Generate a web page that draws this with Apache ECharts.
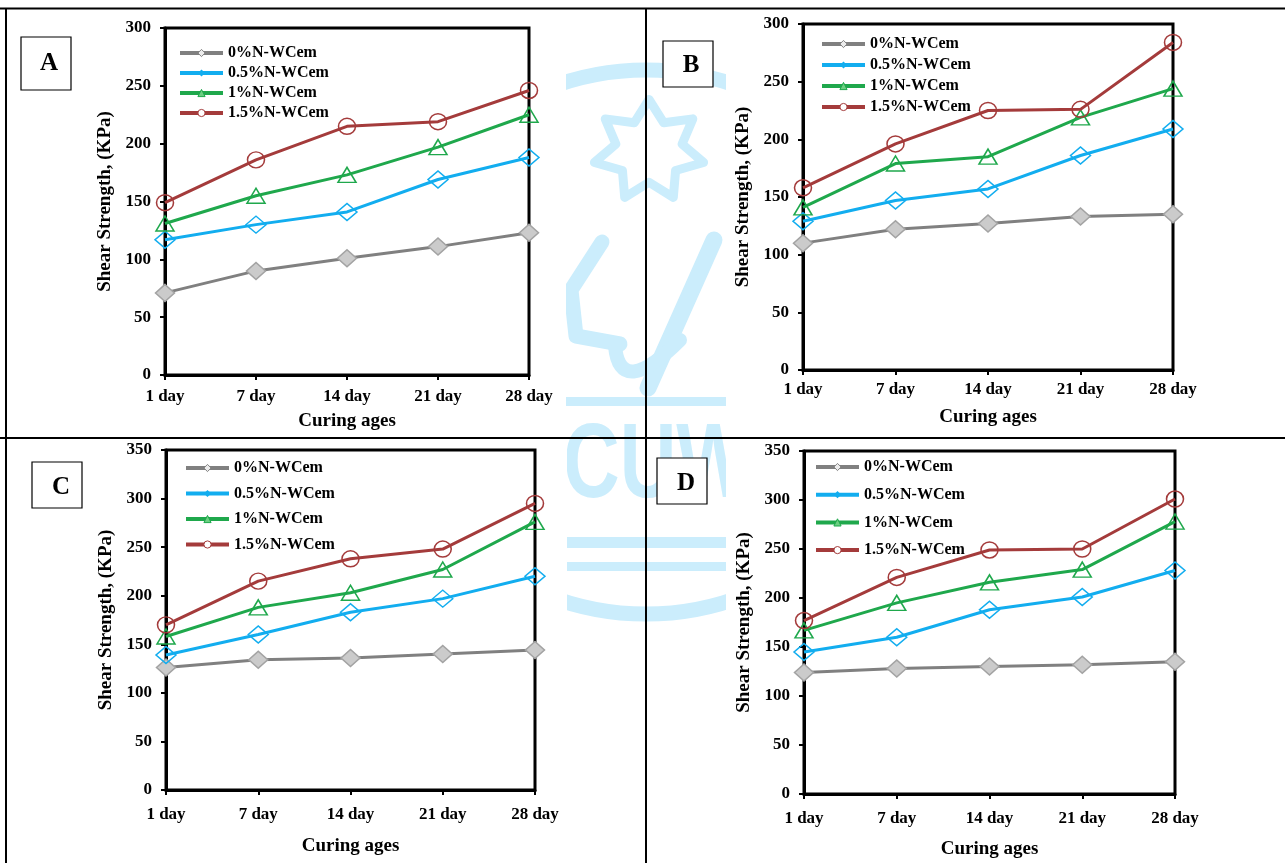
<!DOCTYPE html>
<html><head><meta charset="utf-8">
<script src="https://cdn.jsdelivr.net/npm/echarts@6/dist/echarts.min.js"></script>
<style>html,body{margin:0;padding:0;background:#fff}#c{width:1285px;height:863px}</style>
</head><body><div id="c"></div><script>
// ---------- data ----------
const categories = ['1 day', '7 day', '14 day', '21 day', '28 day'];
const seriesNames = ['0%N-WCem', '0.5%N-WCem', '1%N-WCem', '1.5%N-WCem'];
const panelLetters = ['A', 'B', 'C', 'D'];

const A_0 = [71, 90, 101, 111, 123];
const A_05 = [117, 130, 141, 169, 188];
const A_1 = [131, 155, 173, 197, 225];
const A_15 = [149, 186, 215, 219, 246];

const B_0 = [110, 122, 127, 133, 135];
const B_05 = [129, 147, 157, 186, 209];
const B_1 = [141, 179, 185, 219, 244];
const B_15 = [158, 196, 225, 226, 284];

const C_0 = [126, 134, 136, 140, 144];
const C_05 = [139, 160, 183, 197, 220];
const C_1 = [158, 188, 203, 227, 276];
const C_15 = [170, 215, 238, 248, 295];

const D_0 = [124, 128, 130, 132, 135];
const D_05 = [145, 160, 188, 201, 228];
const D_1 = [167, 195, 216, 229, 278];
const D_15 = [177, 221, 249, 250, 301];

const yMax = [300, 300, 350, 350];
const yInterval = 50;
const xTitle = 'Curing ages';
const yTitle = 'Shear Strength, (KPa)';

// ---------- styling / layout ----------
const panelData = [[A_0, A_05, A_1, A_15], [B_0, B_05, B_1, B_15], [C_0, C_05, C_1, C_15], [D_0, D_05, D_1, D_15]];
const grids = [
  {left: 165, top: 28, width: 364, height: 347},
  {left: 803, top: 24, width: 370, height: 346},
  {left: 166, top: 450, width: 369, height: 340},
  {left: 804, top: 451, width: 371, height: 343}
];
const labelMarginX = [13, 11, 16.5, 16];
const nameGapX = [37, 38, 47, 46];
const legendPos = [
  {left: 178, top: 45, gap: 4},
  {left: 820, top: 36, gap: 5},
  {left: 184, top: 460, gap: 9.5},
  {left: 814, top: 459, gap: 11.7}
];
const boxes = [
  {x: 21, y: 37, w: 50, h: 53, tx: 49, ty: 64},
  {x: 663, y: 41, w: 50, h: 46, tx: 691, ty: 66},
  {x: 32, y: 462, w: 50, h: 46, tx: 61, ty: 488},
  {x: 657, y: 458, w: 50, h: 46, tx: 686, ty: 484}
];
const serif = '"Liberation Serif", "Times New Roman", serif';
const colors = ['#808080', '#12adef', '#1fa84c', '#a43b3b'];
const symbols = ['diamond', 'diamond', 'triangle', 'circle'];
const symbolSizes = [[19, 17], [20, 17], [18, 15], [17, 16]];
const markerFill = ['#cbcbcb', 'rgba(0,0,0,0)', 'rgba(0,0,0,0)', 'rgba(0,0,0,0)'];
const markerBorder = ['#a3a3a3', '#12adef', '#1fa84c', '#a43b3b'];
const legendItemStyles = [
  {color: '#ececec', borderColor: '#808080', borderWidth: 1},
  {color: '#12adef', borderWidth: 0},
  {color: '#6ccf82', borderColor: '#1fa84c', borderWidth: 1},
  {color: '#ffffff', borderColor: '#a43b3b', borderWidth: 1}
];

const xAxes = [], yAxes = [], series = [], legends = [];
grids.forEach((g, p) => {
  xAxes.push({
    gridIndex: p, type: 'category', data: categories, boundaryGap: false,
    axisLine: {lineStyle: {color: '#000', width: 3}},
    axisTick: {show: true, length: 5, lineStyle: {color: '#000', width: 2}},
    axisLabel: {color: '#000', fontFamily: serif, fontWeight: 'bold', fontSize: 17, margin: labelMarginX[p], interval: 0},
    name: xTitle, nameLocation: 'middle', nameGap: nameGapX[p],
    nameTextStyle: {color: '#000', fontFamily: serif, fontWeight: 'bold', fontSize: 19},
    splitLine: {show: false}
  });
  yAxes.push({
    gridIndex: p, type: 'value', min: 0, max: yMax[p], interval: yInterval,
    axisLine: {show: true, lineStyle: {color: '#000', width: 3}},
    axisTick: {show: true, length: 5, lineStyle: {color: '#000', width: 2}},
    axisLabel: {color: '#000', fontFamily: serif, fontWeight: 'bold', fontSize: 17, margin: 14},
    name: yTitle, nameLocation: 'middle', nameGap: 50, nameRotate: 90,
    nameTextStyle: {color: '#000', fontFamily: serif, fontWeight: 'bold', fontSize: 19},
    splitLine: {show: false}
  });
  panelData[p].forEach((vals, s) => {
    series.push({
      type: 'line', name: seriesNames[s], xAxisIndex: p, yAxisIndex: p, data: vals,
      symbol: symbols[s], symbolSize: symbolSizes[s], showAllSymbol: true,
      lineStyle: {color: colors[s], width: 3},
      itemStyle: {color: markerFill[s], borderColor: markerBorder[s], borderWidth: 1.5},
      emphasis: {disabled: true}, z: 3 + s
    });
  });
  const lp = legendPos[p];
  legends.push({
    orient: 'vertical', left: lp.left, top: lp.top, padding: 0, itemGap: lp.gap,
    itemWidth: 43, itemHeight: 9, selectedMode: false,
    lineStyle: {width: 4},
    textStyle: {color: '#000', fontFamily: serif, fontWeight: 'bold', fontSize: 16, lineHeight: 16},
    data: seriesNames.map((n, s) => ({name: n, itemStyle: legendItemStyles[s]}))
  });
});

// ---------- background decoration (watermark, table lines, panel labels) ----------
const wm = '#cbedfc';
const graphic = [];
graphic.push({type: 'circle', z: -10, shape: {cx: 646, cy: 342, r: 272}, style: {fill: null, stroke: wm, lineWidth: 15}});
const starPts = [];
const nPts = 7, cx = 649, cy = 151, R = 56, r = 34;
for (let i = 0; i < nPts * 2; i++) {
  const ang = -Math.PI / 2 + i * Math.PI / nPts;
  const rad = i % 2 === 0 ? R : r;
  starPts.push([cx + rad * Math.cos(ang), cy + rad * Math.sin(ang) * 0.92]);
}
graphic.push({type: 'polygon', z: -10, shape: {points: starPts}, style: {fill: null, stroke: wm, lineWidth: 9, lineJoin: 'round'}});
graphic.push({type: 'polyline', z: -10, shape: {points: [[602, 242], [571, 290], [576, 336], [620, 344]]}, style: {fill: null, stroke: wm, lineWidth: 15, lineCap: 'round', lineJoin: 'round'}});
graphic.push({type: 'polyline', z: -10, shape: {points: [[714, 240], [648, 388]]}, style: {fill: null, stroke: wm, lineWidth: 17, lineCap: 'round'}});
graphic.push({type: 'bezierCurve', z: -10, shape: {x1: 615, y1: 346, cpx1: 620, cpy1: 400, x2: 680, y2: 340}, style: {fill: null, stroke: wm, lineWidth: 14, lineCap: 'round'}});
graphic.push({type: 'rect', z: -10, shape: {x: 560, y: 397, width: 170, height: 9}, style: {fill: wm}});
graphic.push({type: 'text', z: -10, x: 563, y: 468, scaleX: 0.74, style: {text: 'CUW', font: 'bold 106px "Liberation Sans", Arial, sans-serif', fill: wm, verticalAlign: 'middle'}});
graphic.push({type: 'rect', z: -10, shape: {x: 560, y: 537, width: 170, height: 11}, style: {fill: wm}});
graphic.push({type: 'rect', z: -10, shape: {x: 560, y: 562, width: 170, height: 9}, style: {fill: wm}});
// white chart-image areas that hide the watermark
[[86, 10, 480, 427], [726, 10, 484, 427], [86, 439, 481, 424], [726, 439, 484, 424]].forEach(b => {
  graphic.push({type: 'rect', z: -9, shape: {x: b[0], y: b[1], width: b[2], height: b[3]}, style: {fill: '#fff'}});
});
// table lines
const tl = {stroke: '#000', lineWidth: 2};
graphic.push({type: 'line', z: -8, shape: {x1: 0, y1: 8.5, x2: 1285, y2: 8.5}, style: tl});
graphic.push({type: 'line', z: -8, shape: {x1: 0, y1: 438, x2: 1285, y2: 438}, style: tl});
graphic.push({type: 'line', z: -8, shape: {x1: 646, y1: 8, x2: 646, y2: 863}, style: tl});
graphic.push({type: 'line', z: -8, shape: {x1: 6, y1: 8, x2: 6, y2: 863}, style: tl});
// panel letter boxes
boxes.forEach((b, i) => {
  graphic.push({type: 'rect', z: 10, shape: {x: b.x, y: b.y, width: b.w, height: b.h}, style: {fill: '#fff', stroke: '#000', lineWidth: 1.2}});
  graphic.push({type: 'text', z: 11, x: b.tx, y: b.ty, style: {text: panelLetters[i], font: 'bold 25px ' + serif, fill: '#000', align: 'center', verticalAlign: 'middle'}});
});

const chart = echarts.init(document.getElementById('c'), null, {renderer: 'canvas'});
chart.setOption({
  animation: false,
  backgroundColor: '#fff',
  grid: grids.map(g => Object.assign({show: true, borderColor: '#000', borderWidth: 3, backgroundColor: 'transparent', containLabel: false}, g)),
  xAxis: xAxes,
  yAxis: yAxes,
  legend: legends,
  series: series,
  graphic: graphic
});
</script></body></html>
